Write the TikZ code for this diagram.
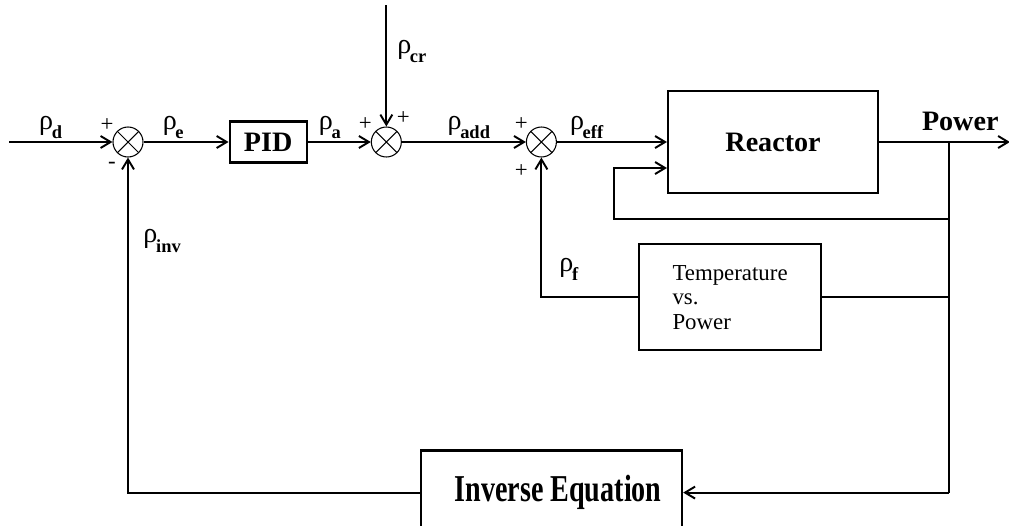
\documentclass[tikz,border=0pt]{standalone}
\usepackage{fontspec}
\setmainfont{Liberation Serif}
\usepackage{graphicx}
\newcommand{\rsig}[1]{{\fontsize{16}{18}\selectfont ρ}\kern-0.8pt\raisebox{-5.5pt}{\fontsize{10.5}{12}\selectfont\bfseries #1}}
\usetikzlibrary{positioning, arrows.meta}

\begin{document}
\begin{tikzpicture}[
  node distance=10mm and 10mm,
  line width=1.1pt,
  box/.style={draw, line width=1.3pt, align=center, inner sep=0pt,
              font=\bfseries\fontsize{16}{18}\selectfont},
  sumnode/.style={draw, circle, minimum size=6mm, inner sep=0pt, line width=0.6pt,
              path picture={\draw[line width=0.6pt]
                (path picture bounding box.north west) -- (path picture bounding box.south east)
                (path picture bounding box.south west) -- (path picture bounding box.north east);}},
  sig/.style={inner sep=0.6mm, outer sep=0pt},
  sgn/.style={inner sep=0pt, font=\fontsize{13}{14}\selectfont},
  arr/.style={-{Straight Barb[length=2mm, width=2.4mm]}, line width=1.1pt},
  wire/.style={line width=1.1pt}
]
\useasboundingbox (-25.6mm,28.4mm) rectangle (176.2mm,-76.6mm);

\node[sumnode] (s1) at (0,0) {};
\coordinate[left=20.6mm of s1] (in);
\node[box, minimum width=15.4mm, minimum height=8.2mm, right=17mm of s1] (pid) {PID};
\node[sumnode, right=12.6mm of pid] (s2) {};
\coordinate[above=24.2mm of s2] (cr);
\node[sumnode, right=24.8mm of s2] (s3) {};
\node[box, minimum width=42mm, minimum height=20.4mm, right=22mm of s3] (reactor) {Reactor};
\coordinate[right=78.4mm of s3.east] (br);
\coordinate[right=12.2mm of br] (out);

\coordinate[below=15.4mm of br] (lp);
\coordinate[below=5.2mm of reactor.west] (rin);
\coordinate[left=10.6mm of rin] (lc);
\node[box, minimum width=36.4mm, minimum height=21.2mm, below=9.8mm of reactor, xshift=-8.6mm,
      align=left, font=\fontsize{13}{14}\selectfont] (temp) {Temperature\\vs.\\Power};
\coordinate (bt) at (br |- temp.east);
\node[box, minimum width=52.2mm, minimum height=16.8mm, below=19.6mm of temp, xshift=-35.7mm] (inv)
     {\hspace*{2.6mm}\scalebox{1}[1.35]{Inverse Equation}};
\coordinate (bi) at (br |- inv);

\node[sgn] (p1a) at ([xshift=-4.2mm, yshift=3.4mm]s1) {+};
\node[sgn] (p1b) at ([xshift=-3.2mm, yshift=-4.6mm]s1) {-};
\node[sgn] (p2a) at ([xshift=-4.2mm, yshift=3.6mm]s2) {+};
\node[sgn] (p2b) at ([xshift=3.4mm, yshift=4.8mm]s2) {+};
\node[sgn] (p3a) at ([xshift=-4mm, yshift=3.6mm]s3) {+};
\node[sgn] (p3b) at ([xshift=-4mm, yshift=-5.8mm]s3) {+};

\draw[arr] (in) -- (s1) node[sig, above, pos=0.4] (lbd) {\rsig{d}};
\draw[arr] (s1) -- (pid) node[sig, above, pos=0.35] (lbe) {\rsig{e}};
\draw[arr] (pid) -- (s2) node[sig, above, pos=0.35] (lba) {\rsig{a}};
\draw[arr] (cr) -- (s2) node[sig, right=1.6mm, pos=0.38] (lbcr) {\rsig{cr}};
\draw[arr] (s2) -- (s3) node[sig, above, pos=0.54] (lbadd) {\rsig{add}};
\draw[arr] (s3) -- (reactor) node[sig, above, pos=0.27] (lbeff) {\rsig{eff}};
\draw[arr] (reactor) -- (out) node[sig, above=1.6mm, pos=0.62, font=\bfseries\fontsize{16}{18}\selectfont] (lbpow) {Power};
\draw[wire] (br) -- (bi);
\draw[arr] (lp) -| (lc) -- (rin);
\draw[wire] (bt) -- (temp);
\draw[arr] (temp) -| (s3) node[sig, right=3mm, pos=0.6] (lbf) {\rsig{f}};
\draw[arr] (bi) -- (inv);
\draw[arr] (inv) -| (s1) node[sig, right=2.5mm, pos=0.875] (lbinv) {\rsig{inv}};
\end{tikzpicture}
\end{document}
